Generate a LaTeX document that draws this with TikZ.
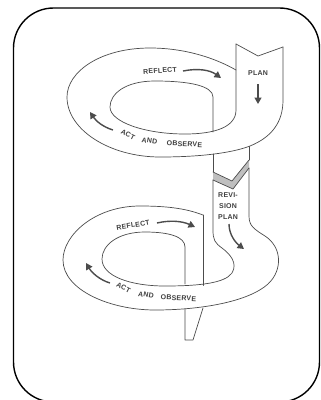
\documentclass[tikz,border=0pt]{standalone}
\usepackage{fontspec}
\setmainfont{Liberation Sans}
\newfontfamily\capfont[LetterSpace=3]{Liberation Sans}
\newfontfamily\capfontb{Carlito}
\usetikzlibrary{arrows.meta}
\tikzset{
  rib/.style={draw=black!70, line width=0.7pt, line join=round, line cap=round},
  lbl/.style={font=\capfont\bfseries\fontsize{7}{11}\selectfont, text=black!75, inner sep=0pt},
  flow/.style={draw=black!70, line width=1.4pt, -{Triangle[length=6.5pt,width=7pt]}},
  frame/.style={draw=black, line width=1.4pt, rounded corners=40pt}
}
\begin{document}
\begin{tikzpicture}[x=1pt,y=-1pt]
\useasboundingbox (0,0) rectangle (321,400);
\clip (0,0) rectangle (321,400);
% caption fragment below the frame
\node[anchor=base west, font=\capfontb\fontsize{30}{30}\selectfont, inner sep=0pt] (cap) at (-2,428) {Desain penelitian};
% frame
\draw[frame, fill=white] (13.5,8) rectangle (319.5,402);
% ---------- top loop ----------
\draw[rib] (236,70) .. controls (215,58) and (185,48) .. (150,48)
  .. controls (100,48) and (67,72) .. (67,97)
  .. controls (67,130) and (110,157) .. (160,157)
  .. controls (200,157) and (232,153) .. (250,146)
  .. controls (272,137) and (283,122) .. (283,100) -- (283,47);
\draw[rib] (213,132) -- (213,97) .. controls (213,86) and (190,81) .. (155,81)
  .. controls (125,81) and (110,94) .. (110,107)
  .. controls (110,122) and (145,134) .. (185,134)
  .. controls (215,134) and (236,127) .. (236,110) -- (236,44);
\draw[rib] (236,44) -- (258,56) -- (283,47);
% band below top loop
\draw[rib] (213,154) -- (213,172);
\draw[rib] (249,146.5) -- (249,160);
% fold
\fill[black!25] (213,172) -- (232,181) -- (249,160) -- (249,168) -- (233,189) -- (213,180) -- cycle;
\draw[rib] (213,172) -- (232,181) -- (249,160);
\draw[rib] (213,180) -- (233,189) -- (249,168);
% ---------- lower loop ----------
\draw[rib] (203,215) .. controls (185,208) and (165,206) .. (140,206)
  .. controls (95,206) and (63,235) .. (63,260)
  .. controls (63,290) and (110,310) .. (155,310)
  .. controls (200,310) and (248,302) .. (268,284)
  .. controls (283,270) and (282,247) .. (265,236)
  .. controls (254,229) and (249,226) .. (249,216) -- (249,168);
\draw[rib] (185,284) -- (185,247) .. controls (185,237) and (170,232) .. (145,232)
  .. controls (118,232) and (102,245) .. (102,259)
  .. controls (102,276) and (130,286) .. (165,286)
  .. controls (200,286) and (225,283) .. (232,273)
  .. controls (238,263) and (230,254) .. (222,248)
  .. controls (215,243) and (213,240) .. (213,230) -- (213,180);
\draw[rib] (203,215) -- (203,285.5);
\draw[rib] (185,309) -- (185,340) -- (193,340) -- (203,308);
% ---------- labels ----------
\node[lbl, rotate=4] (reflA) at (160,70.5) {REFLECT};
\node[lbl] (plan) at (258,73) {PLAN};
\node[lbl, rotate=-27] (actA) at (128,134.5) {ACT};
\node[lbl, rotate=-10] (andA) at (149.5,141) {AND};
\node[lbl, rotate=-3] (obsA) at (184.5,144) {OBSERVE};
\node[lbl, rotate=9] (reflB) at (133,225) {REFLECT};
\node[lbl, rotate=-27] (actB) at (123.5,287.5) {ACT};
\node[lbl, rotate=-10] (andB) at (146,295) {AND};
\node[lbl, rotate=-3] (obsB) at (178.5,298) {OBSERVE};
\node[lbl, align=center] (rev) at (228,206) {REVI-\\SION\\PLAN};
% ---------- arrows ----------
\coordinate (a1s) at (183,71); \coordinate (a1e) at (221,78);
\coordinate (a2s) at (113,130); \coordinate (a2e) at (90,112);
\coordinate (a3s) at (258,84); \coordinate (a3e) at (258,104);
\coordinate (a4s) at (157,223); \coordinate (a4e) at (195,227);
\coordinate (a5s) at (110,283); \coordinate (a5e) at (86,263);
\coordinate (a6s) at (229,224); \coordinate (a6e) at (244,249);
\draw[flow] (a1s) .. controls (198,68) and (210,70) .. (a1e);
\draw[flow] (a2s) .. controls (103,127) and (96,121) .. (a2e);
\draw[flow] (a3s) -- (a3e);
\draw[flow] (a4s) .. controls (170,220) and (182,221) .. (a4e);
\draw[flow] (a5s) .. controls (100,280) and (92,273) .. (a5e);
\draw[flow] (a6s) .. controls (229,235) and (236,243) .. (a6e);
\end{tikzpicture}
\end{document}
